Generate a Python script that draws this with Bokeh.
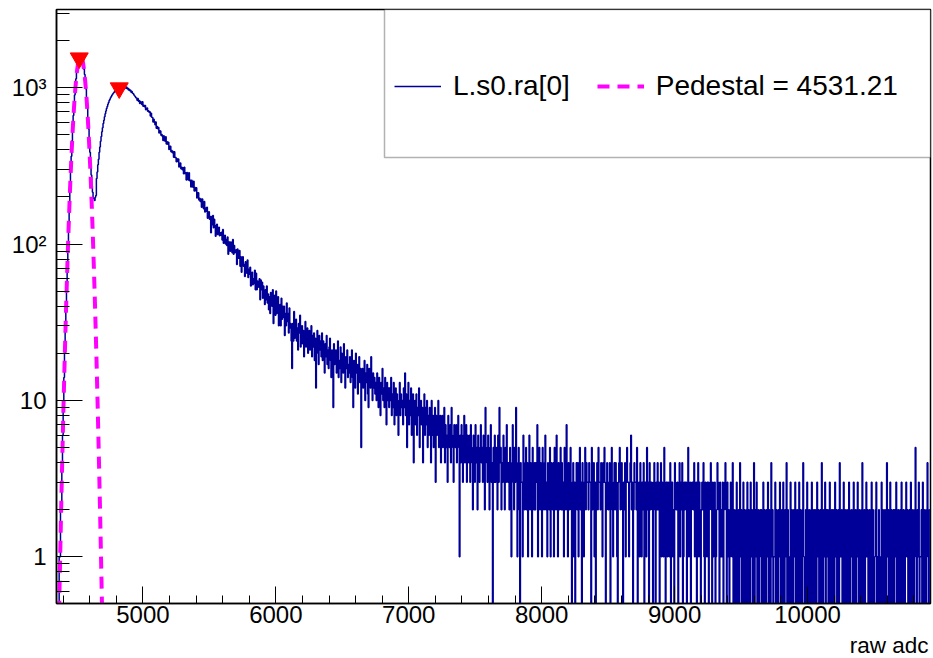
import numpy as np
from bokeh.plotting import figure
from bokeh.layouts import column
from bokeh.models import (Range1d, SingleIntervalTicker, LogTicker, Legend,
                          LegendItem, BoxAnnotation, Label)
from bokeh.embed import file_html
from bokeh.resources import INLINE

# ---------------- data ----------------
BIN_START = 4350      # raw adc, low edge of first bin
BIN_WIDTH = 5         # raw adc per bin

# 4350 .. 4645  (pedestal peak)
counts_pedestal = [
    0, 0, 0, 0, 1, 1, 2, 2, 4, 6, 9, 14, 20, 29, 40, 56, 77, 104, 139, 180,
    233, 301, 364, 458, 547, 664, 769, 897, 1008, 1141, 1246, 1365, 1449, 1533, 1577, 1618, 1614, 1605, 1551, 1496,
    1422, 1313, 1214, 1088, 979, 851, 746, 630, 544, 455, 387, 321, 276, 235, 214, 197, 195, 190, 199, 204,
]
# 4650 .. 5445  (signal peak)
counts_peak = [
    262, 289, 321, 349, 386, 418, 455, 487, 523, 554, 590, 619, 651, 680, 709, 736, 758, 784, 803, 827,
    844, 863, 877, 895, 908, 922, 931, 945, 956, 950, 973, 968, 990, 983, 1001, 997, 1016, 1004, 1026, 1011,
    1017, 1032, 999, 1013, 992, 1008, 983, 991, 966, 977, 954, 962, 936, 945, 920, 917, 901, 888, 877, 862,
    858, 831, 853, 820, 829, 792, 815, 801, 781, 812, 760, 771, 754, 769, 722, 735, 741, 706, 712, 695,
    700, 659, 685, 647, 644, 602, 629, 604, 580, 603, 550, 564, 546, 557, 512, 530, 528, 496, 501, 487,
    459, 492, 473, 454, 485, 436, 451, 434, 447, 402, 422, 422, 389, 396, 383, 391, 359, 389, 357, 358,
    336, 351, 337, 350, 311, 329, 330, 303, 310, 299, 307, 281, 310, 283, 286, 257, 287, 271, 257, 286,
    254, 256, 232, 256, 243, 231, 252, 218, 230, 219, 229, 197, 213, 213, 191, 196, 187, 194, 172, 194,
]
# 5450 .. 6945  (falling slope)
counts_slope = [
    177, 168, 187, 160, 170, 162, 172, 146, 160, 161, 144, 150, 118, 150, 133, 152, 127, 144, 132, 112,
    126, 134, 115, 125, 128, 113, 118, 114, 119, 106, 124, 101, 110, 114, 100, 107, 98, 111, 86, 103,
    103, 90, 103, 97, 88, 107, 86, 98, 88, 89, 92, 74, 93, 81, 81, 91, 72, 83, 66, 78,
    83, 72, 74, 62, 77, 71, 65, 79, 61, 69, 64, 71, 54, 64, 66, 55, 60, 56, 68, 51,
    65, 51, 58, 55, 53, 60, 44, 59, 51, 57, 45, 54, 50, 41, 51, 44, 54, 42, 48, 38,
    46, 36, 49, 44, 40, 51, 31, 45, 47, 35, 50, 36, 37, 46, 30, 40, 41, 30, 45, 33,
    40, 34, 40, 26, 36, 30, 42, 32, 36, 27, 39, 29, 31, 24, 16, 31, 24, 37, 25, 32,
    33, 24, 29, 21, 31, 27, 35, 22, 26, 30, 23, 28, 19, 27, 32, 22, 25, 29, 20, 26,
    28, 21, 24, 30, 19, 26, 22, 27, 18, 25, 12, 23, 28, 20, 17, 26, 21, 24, 19, 27,
    18, 24, 20, 15, 23, 19, 26, 17, 21, 16, 22, 25, 18, 14, 21, 19, 9, 23, 17, 20,
    21, 15, 19, 24, 14, 18, 16, 22, 13, 20, 17, 15, 23, 18, 12, 19, 16, 21, 14, 17,
    15, 19, 13, 17, 21, 14, 9, 18, 16, 12, 20, 15, 17, 11, 14, 19, 13, 16, 5, 15,
    16, 12, 14, 18, 10, 15, 13, 17, 11, 9, 16, 14, 12, 19, 13, 10, 15, 12, 14, 11,
    13, 10, 15, 11, 9, 14, 12, 8, 13, 11, 16, 10, 12, 9, 14, 11, 7, 13, 10, 12,
    9, 12, 10, 14, 8, 11, 9, 13, 7, 10, 12, 8, 11, 9, 6, 10, 13, 8, 11, 9,
]
# 6950 .. 8245
counts_mid = [
    10, 7, 12, 9, 15, 8, 11, 5, 9, 13, 7, 10, 8, 12, 6, 9, 11, 4, 8, 10,
    7, 11, 6, 9, 8, 12, 5, 8, 10, 7, 9, 4, 8, 11, 6, 9, 7, 10, 5, 8,
    6, 9, 7, 4, 10, 6, 8, 5, 7, 9, 3, 8, 6, 7, 10, 5, 6, 8, 4, 7,
    8, 5, 6, 9, 4, 7, 5, 6, 3, 8, 6, 5, 7, 4, 9, 6, 5, 3, 7, 6,
    5, 7, 4, 6, 8, 5, 1, 6, 4, 7, 5, 3, 6, 8, 4, 5, 7, 3, 6, 5,
    4, 6, 3, 7, 5, 4, 2, 6, 5, 3, 7, 4, 5, 2, 6, 4, 3, 5, 7, 4,
    5, 3, 6, 4, 2, 9, 5, 4, 3, 6, 4, 2, 5, 7, 3, 4, 0, 5, 3, 6,
    3, 5, 4, 2, 6, 3, 9, 4, 5, 2, 4, 3, 6, 4, 2, 5, 3, 7, 4, 3,
    4, 2, 5, 3, 1, 4, 7, 3, 2, 5, 3, 9, 4, 1, 3, 5, 2, 0, 4, 3,
    3, 1, 6, 4, 2, 3, 5, 2, 4, 1, 3, 6, 2, 4, 3, 1, 5, 3, 2, 4,
    2, 4, 3, 7, 1, 3, 5, 2, 4, 3, 1, 5, 3, 2, 4, 6, 2, 3, 1, 4,
    3, 2, 5, 1, 4, 3, 2, 4, 1, 5, 3, 2, 6, 3, 1, 4, 2, 3, 5, 2,
    4, 2, 3, 1, 5, 3, 2, 7, 3, 1, 4, 2, 3, 5, 2, 0, 3, 4, 1, 3,
]
# 8250 .. 10915  (tail)
counts_tail = [
    0, 3, 4, 2, 4, 1, 3, 5, 2, 3, 0, 4, 3, 1, 3, 5, 2, 4, 3, 3,
    2, 4, 3, 3, 0, 5, 2, 3, 4, 1, 3, 0, 3, 4, 2, 5, 3, 3, 2, 4,
    3, 1, 4, 3, 5, 3, 0, 2, 4, 3, 2, 3, 4, 0, 3, 5, 2, 1, 3, 4,
    2, 4, 3, 1, 0, 3, 4, 5, 2, 3, 4, 2, 0, 3, 2, 4, 1, 3, 5, 3,
    3, 1, 3, 4, 6, 2, 3, 0, 2, 4, 3, 3, 2, 5, 0, 2, 3, 1, 4, 3,
    1, 3, 2, 4, 0, 3, 3, 1, 5, 2, 3, 0, 4, 2, 3, 3, 2, 0, 3, 4,
    2, 0, 3, 2, 4, 2, 3, 0, 3, 4, 1, 3, 2, 1, 5, 2, 0, 3, 3, 1,
    3, 2, 1, 4, 0, 3, 3, 1, 2, 0, 4, 3, 2, 2, 3, 0, 2, 4, 1, 3,
    2, 4, 0, 1, 3, 2, 3, 3, 0, 2, 5, 1, 2, 3, 0, 2, 3, 3, 2, 4,
    1, 2, 3, 0, 3, 4, 1, 3, 2, 0, 2, 3, 2, 4, 1, 0, 3, 2, 1, 3,
    3, 0, 2, 3, 4, 2, 0, 3, 1, 2, 3, 0, 1, 2, 4, 3, 2, 0, 3, 1,
    2, 1, 3, 0, 2, 3, 4, 2, 0, 3, 1, 2, 0, 1, 3, 2, 1, 4, 0, 2,
    1, 0, 2, 3, 0, 1, 2, 0, 4, 1, 2, 0, 1, 3, 0, 2, 1, 0, 2, 3,
    0, 2, 1, 0, 3, 1, 2, 0, 1, 4, 0, 2, 1, 3, 0, 1, 2, 0, 1, 2,
    2, 0, 1, 3, 0, 2, 1, 0, 2, 1, 3, 0, 2, 1, 0, 4, 1, 2, 0, 1,
    1, 3, 0, 2, 1, 0, 2, 1, 3, 0, 1, 2, 0, 3, 1, 0, 2, 1, 4, 0,
    2, 1, 0, 1, 3, 0, 2, 1, 0, 2, 1, 3, 0, 1, 2, 0, 1, 3, 0, 2,
    1, 0, 2, 4, 1, 0, 1, 2, 0, 3, 1, 0, 2, 1, 0, 2, 3, 0, 1, 2,
    0, 2, 1, 0, 3, 1, 2, 0, 1, 2, 0, 4, 1, 0, 2, 1, 3, 0, 2, 1,
    2, 0, 1, 3, 0, 1, 2, 0, 2, 1, 0, 3, 1, 2, 0, 1, 2, 0, 4, 1,
    1, 2, 0, 1, 3, 0, 2, 1, 0, 2, 1, 0, 3, 2, 0, 1, 2, 1, 0, 3,
    0, 1, 2, 0, 1, 3, 1, 0, 2, 1, 0, 2, 4, 0, 1, 2, 0, 1, 3, 1,
    2, 0, 1, 2, 0, 1, 3, 0, 2, 1, 0, 1, 2, 3, 0, 1, 0, 2, 1, 0,
    1, 3, 0, 2, 1, 0, 2, 1, 0, 4, 1, 2, 0, 1, 3, 0, 2, 1, 0, 2,
    0, 2, 1, 3, 0, 1, 2, 0, 1, 2, 0, 3, 1, 0, 2, 1, 0, 2, 3, 1,
    2, 0, 1, 2, 0, 3, 1, 0, 2, 1, 0, 2, 5, 1, 0, 2, 1, 3, 0, 1,
    1, 2, 0, 3, 1, 0, 2, 1, 0, 2, 4, 1, 0, 2,
]

# pedestal Gaussian fit parameters
PED_MEAN = 4531.21
PED_AMP = 1600.0
PED_SIGMA = 40.0

# peaks found (red markers)
peak_x = [4521, 4822]
peak_y = [1545, 994]

# ---------------- build ----------------
counts = counts_pedestal + counts_peak + counts_slope + counts_mid + counts_tail
n = len(counts)
edges = BIN_START + BIN_WIDTH * np.arange(n + 1)
yv = np.array(counts, dtype=float)
yv = np.where(yv > 0, yv, 1e-3)          # empty bins drop below the frame on the log axis
ys = np.append(yv, yv[-1])

xf = np.linspace(BIN_START, 4780, 400)
yf = PED_AMP * np.exp(-0.5 * ((xf - PED_MEAN) / PED_SIGMA) ** 2)

FONT = "Liberation Sans"

p = figure(width=933, height=632, x_range=Range1d(4350, 10925),
           y_range=Range1d(0.503, 3160), y_axis_type="log",
           output_backend="svg", toolbar_location=None,
           min_border_left=56, min_border_right=3, min_border_top=9,
           min_border_bottom=29)
p.grid.visible = False
p.background_fill_color = "white"
p.border_fill_color = "white"
p.outline_line_color = "black"
p.outline_line_width = 1.5

hist_r = p.step(edges, ys, mode="after", line_color="#000099", line_width=1.5)
fit_r = p.line(xf, yf, line_color="#ff00ff", line_width=4, line_dash="12 8")
p.scatter(peak_x, peak_y, marker="inverted_triangle", size=18,
          fill_color="red", line_color="red")

# axes
p.xaxis.ticker = SingleIntervalTicker(interval=1000, num_minor_ticks=5)
p.yaxis.ticker = LogTicker(num_minor_ticks=10)
p.yaxis.major_label_overrides = {1: "1", 10: "10", 100: "10²", 1000: "10³"}
for ax in (p.xaxis[0], p.yaxis[0]):
    ax.axis_line_color = "black"
    ax.axis_line_width = 1.5
    ax.major_tick_line_color = "black"
    ax.minor_tick_line_color = "black"
    ax.major_tick_line_width = 1
    ax.minor_tick_line_width = 1
    ax.major_tick_out = 0
    ax.minor_tick_out = 0
    ax.major_label_text_font = FONT
    ax.major_label_text_font_size = "24px"
    ax.major_label_text_color = "black"
p.xaxis.major_tick_in = 17
p.xaxis.minor_tick_in = 8
p.xaxis.major_label_standoff = 2
p.yaxis.major_tick_in = 26
p.yaxis.minor_tick_in = 13
p.yaxis.major_label_standoff = 10

# legend box + legend
p.add_layout(BoxAnnotation(left=328, bottom=446, left_units="screen",
                           bottom_units="screen", fill_color="white",
                           fill_alpha=1.0, line_color="black", line_width=1.5))
legend = Legend(items=[LegendItem(label="L.s0.ra[0]", renderers=[hist_r]),
                       LegendItem(label="Pedestal = 4531.21", renderers=[fit_r])],
                orientation="horizontal", location=(338, 501), padding=0,
                margin=0, spacing=27, glyph_width=47, glyph_height=30,
                label_height=30, label_standoff=12, label_text_font=FONT,
                label_text_font_size="28px", label_text_color="black",
                border_line_alpha=0, background_fill_alpha=0)
p.add_layout(legend)

# strip under the plot carrying the x-axis title (right aligned, ROOT style)
q = figure(width=933, height=26, x_range=Range1d(0, 874), y_range=Range1d(0, 26),
           output_backend="svg", toolbar_location=None,
           x_axis_location=None, y_axis_location=None,
           min_border_left=56, min_border_right=3, min_border_top=0,
           min_border_bottom=0)
q.grid.visible = False
q.outline_line_color = None
q.background_fill_color = "white"
q.border_fill_color = "white"
q.add_layout(Label(x=872, y=26, text="raw adc", text_align="right",
                   text_baseline="top", text_font=FONT,
                   text_font_size="22.5px", text_color="black"))

layout = column(p, q, spacing=0)
open("out.html", "w").write(file_html(layout, INLINE))
